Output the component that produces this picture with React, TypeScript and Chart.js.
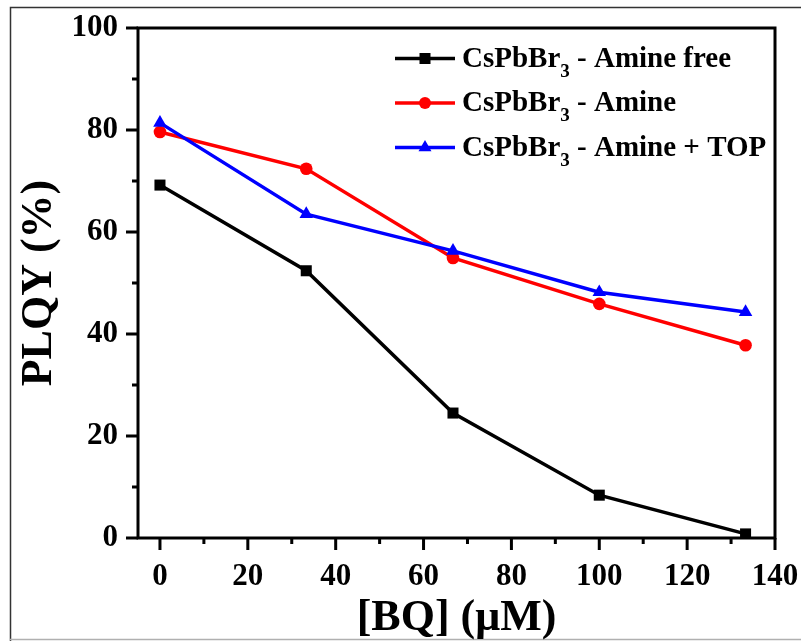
import { useEffect, useRef } from 'react';
import { Chart, registerables } from 'chart.js';

Chart.register(...registerables);

const concentrations = [0, 33.3, 66.7, 100, 133.3];
const amineFree = [69.2, 52.4, 24.5, 8.4, 0.8];
const amine = [79.6, 72.4, 54.9, 45.9, 37.8];
const amineTop = [81.4, 63.5, 56.3, 48.2, 44.3];
const seriesNames = ['Amine free', 'Amine', 'Amine + TOP'];
const seriesColors = ['#000000', '#ff0000', '#0000ff'];
const seriesMarkers = ['rect', 'circle', 'triangle'];
const xTickValues = [0, 10, 20, 30, 40, 50, 60, 70, 80, 90, 100, 110, 120, 130, 140];
const yTickValues = [0, 10, 20, 30, 40, 50, 60, 70, 80, 90, 100];
const xTitle = '[BQ] (\u03bcM)';
const yTitle = 'PLQY (%)';

const FONT = "'Liberation Serif', 'Times New Roman', serif";

function drawMarker(ctx: CanvasRenderingContext2D, style: string, x: number, y: number, color: string) {
  ctx.fillStyle = color;
  ctx.beginPath();
  if (style === 'rect') {
    ctx.rect(x - 5.5, y - 5.5, 11, 11);
  } else if (style === 'circle') {
    ctx.arc(x, y, 6, 0, Math.PI * 2);
  } else {
    const r = 7.5;
    ctx.moveTo(x, y - r);
    ctx.lineTo(x + r * 0.866, y + r * 0.5);
    ctx.lineTo(x - r * 0.866, y + r * 0.5);
    ctx.closePath();
  }
  ctx.fill();
}

const customPlugin = {
  id: 'customDecor',
  beforeDraw(chart: any) {
    const { ctx, width, height } = chart;
    ctx.save();
    ctx.fillStyle = '#ffffff';
    ctx.fillRect(0, 0, width, height);
    ctx.strokeStyle = '#333333';
    ctx.lineWidth = 1.5;
    ctx.beginPath();
    ctx.moveTo(10.5, 641);
    ctx.lineTo(10.5, 7.5);
    ctx.lineTo(801, 7.5);
    ctx.stroke();
    ctx.strokeStyle = '#b0b0b0';
    ctx.lineWidth = 1.5;
    ctx.beginPath();
    ctx.moveTo(10, 639.5);
    ctx.lineTo(801, 639.5);
    ctx.stroke();
    ctx.restore();
  },
  afterDraw(chart: any) {
    const { ctx, chartArea: a, scales } = chart;
    ctx.save();
    ctx.strokeStyle = '#000';
    ctx.lineWidth = 3;
    ctx.strokeRect(a.left, a.top, a.right - a.left, a.bottom - a.top);
    ctx.beginPath();
    for (const v of xTickValues) {
      const px = scales.x.getPixelForValue(v);
      const len = v % 20 === 0 ? 12 : 6;
      ctx.moveTo(px, a.bottom);
      ctx.lineTo(px, a.bottom + len);
    }
    for (const v of yTickValues) {
      const py = scales.y.getPixelForValue(v);
      const len = v % 20 === 0 ? 12 : 6;
      ctx.moveTo(a.left, py);
      ctx.lineTo(a.left - len, py);
    }
    ctx.stroke();

    // legend
    seriesNames.forEach((name, i) => {
      const y = 58.5 + i * 44.5;
      const color = seriesColors[i];
      ctx.strokeStyle = color;
      ctx.lineWidth = 3.5;
      ctx.beginPath();
      ctx.moveTo(395, y);
      ctx.lineTo(455, y);
      ctx.stroke();
      drawMarker(ctx, seriesMarkers[i], 425, y, color);
      ctx.fillStyle = '#000';
      ctx.textBaseline = 'alphabetic';
      ctx.textAlign = 'left';
      let x = 462;
      ctx.font = `bold 29px ${FONT}`;
      ctx.fillText('CsPbBr', x, y + 8);
      x += ctx.measureText('CsPbBr').width;
      ctx.font = `bold 19px ${FONT}`;
      ctx.fillText('3', x, y + 18);
      x += ctx.measureText('3').width;
      ctx.font = `bold 29px ${FONT}`;
      ctx.fillText(' - ' + name, x, y + 8);
    });
    ctx.restore();
  },
};

export default function App() {
  const ref = useRef<HTMLCanvasElement | null>(null);
  useEffect(() => {
    if (!ref.current) return;
    const mk = (label: string, values: number[], i: number, order: number) => ({
      label,
      data: concentrations.map((x, k) => ({ x, y: values[k] })),
      borderColor: seriesColors[i],
      backgroundColor: seriesColors[i],
      borderWidth: 3.5,
      pointStyle: seriesMarkers[i],
      pointRadius: i === 0 ? 7.8 : i === 1 ? 6.3 : 7.8,
      pointBorderWidth: 0,
      pointBackgroundColor: seriesColors[i],
      tension: 0,
      order,
    });
    const clearPad = (s: any) => {
      s.paddingTop = 0;
      s.paddingBottom = 0;
      s.paddingLeft = 0;
      s.paddingRight = 0;
    };
    const chart = new Chart(ref.current, {
      type: 'line',
      data: {
        datasets: [
          mk(seriesNames[0], amineFree, 0, 2),
          mk(seriesNames[1], amine, 1, 1),
          mk(seriesNames[2], amineTop, 2, 0),
        ],
      },
      plugins: [customPlugin],
      options: {
        responsive: false,
        maintainAspectRatio: false,
        devicePixelRatio: 1,
        animation: false,
        layout: { autoPadding: false, padding: { left: 0, top: 28, right: 26, bottom: 0 } },
        plugins: { legend: { display: false }, tooltip: { enabled: false } },
        scales: {
          x: {
            type: 'linear',
            min: -5,
            max: 140,
            grid: { display: false, drawTicks: false },
            border: { display: false },
            afterBuildTicks: (s: any) => {
              s.ticks = xTickValues.map((v) => ({ value: v }));
            },
            afterFit: (s: any) => {
              s.height = 103;
              clearPad(s);
            },
            ticks: {
              autoSkip: false,
              maxRotation: 0,
              padding: 20,
              color: '#000',
              font: { family: FONT, size: 31, weight: 'bold', lineHeight: 1.2 },
              callback: (v: any) => (Number(v) % 20 === 0 ? String(v) : ''),
            },
            title: {
              display: true,
              text: xTitle,
              color: '#000',
              font: { family: FONT, size: 44, weight: 'bold', lineHeight: 1 },
              padding: { top: 0, bottom: 0 },
            },
          },
          y: {
            type: 'linear',
            min: 0,
            max: 100,
            grid: { display: false, drawTicks: false },
            border: { display: false },
            afterBuildTicks: (s: any) => {
              s.ticks = yTickValues.map((v) => ({ value: v }));
            },
            afterFit: (s: any) => {
              s.width = 138;
              clearPad(s);
            },
            ticks: {
              autoSkip: false,
              padding: 20,
              color: '#000',
              font: { family: FONT, size: 31, weight: 'bold', lineHeight: 1.2 },
              callback: (v: any) => (Number(v) % 20 === 0 ? String(v) : ''),
            },
            title: {
              display: true,
              text: yTitle,
              color: '#000',
              font: { family: FONT, size: 44, weight: 'bold', lineHeight: 1 },
              padding: { top: 18, bottom: 0 },
            },
          },
        },
      },
    } as any);
    return () => chart.destroy();
  }, []);
  return (
    <div style={{ position: 'fixed', left: 0, top: 0, width: 801, height: 641, background: '#fff' }}>
      <canvas ref={ref} width={801} height={641} style={{ display: 'block', width: 801, height: 641 }} />
    </div>
  );
}
